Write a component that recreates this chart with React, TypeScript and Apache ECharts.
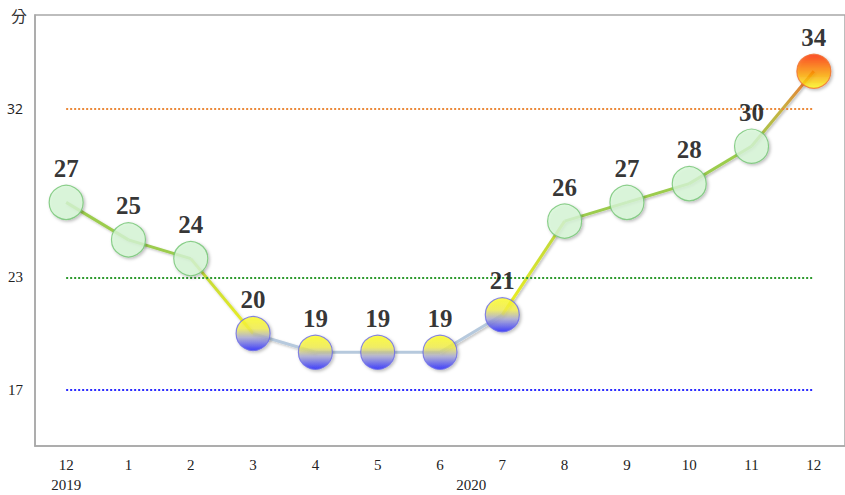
import React, { useEffect, useRef } from "react";
import * as echarts from "echarts";

const months = ["12", "1", "2", "3", "4", "5", "6", "7", "8", "9", "10", "11", "12"];
const scores = [27, 25, 24, 20, 19, 19, 19, 21, 26, 27, 28, 30, 34];
// signal per month: g = green, b = yellow-blue, r = red
const signals = ["g", "g", "g", "b", "b", "b", "b", "b", "g", "g", "g", "g", "r"];
const thresholds = [32, 23, 17];
const thresholdColors = ["#ec8a3a", "#2e9a2e", "#2a2aff"];
const yLabels = [17, 23, 32];
const years = [
  { text: "2019", at: 0 },
  { text: "2020", at: 6.5 },
];

function markerStyle(sig: string) {
  if (sig === "g") {
    return { color: "#d8f7d8", borderColor: "#72c472", borderWidth: 1.2 };
  }
  if (sig === "b") {
    return {
      color: new echarts.graphic.LinearGradient(0, 0, 0, 1, [
        { offset: 0, color: "#ffff20" },
        { offset: 0.35, color: "#f4f04c" },
        { offset: 0.62, color: "#a8a8d2" },
        { offset: 1, color: "#1e1eff" },
      ]),
      borderColor: "#6a6ae6",
      borderWidth: 1.2,
    };
  }
  return {
    color: new echarts.graphic.LinearGradient(0, 0, 0, 1, [
      { offset: 0, color: "#ff2a00" },
      { offset: 0.55, color: "#ff9a00" },
      { offset: 1, color: "#ffff20" },
    ]),
    borderColor: "#f07030",
    borderWidth: 1.2,
  };
}

function segmentColor(a: string, b: string, upper: string) {
  if (a === "g" && b === "g") return "#9ccc4e";
  if (a === "b" && b === "b") return "#b6c9dd";
  if (upper === "r") {
    return new echarts.graphic.LinearGradient(0, 0, 0, 1, [
      { offset: 0, color: "#f06a30" },
      { offset: 0.5, color: "#c8b040" },
      { offset: 1, color: "#9ccc4e" },
    ]);
  }
  return new echarts.graphic.LinearGradient(0, 0, 0, 1, [
    { offset: 0, color: "#b8d440" },
    { offset: 1, color: "#f0f020" },
  ]);
}

export default function App() {
  const ref = useRef<HTMLDivElement>(null);
  useEffect(() => {
    document.body.style.margin = "0";
    const chart = echarts.init(ref.current!, null, { renderer: "svg" });

    const segSeries: any[] = [];
    for (let i = 0; i < scores.length - 1; i++) {
      const data: any[] = scores.map(() => null);
      data[i] = scores[i];
      data[i + 1] = scores[i + 1];
      const upper = scores[i] > scores[i + 1] ? signals[i] : signals[i + 1];
      const flat = scores[i] === scores[i + 1];
      segSeries.push({
        type: "line",
        data,
        symbol: "none",
        silent: true,
        z: 2,
        lineStyle: {
          width: 3,
          color: segmentColor(signals[i], signals[i + 1], upper),
          ...(flat
            ? {}
            : {
                shadowColor: "rgba(0,0,0,0.25)",
                shadowBlur: 2,
                shadowOffsetX: 1.5,
                shadowOffsetY: 1.5,
              }),
        },
      });
    }

    const markLineData = thresholds.map((v, i) => [
      { coord: [0, v], lineStyle: { color: thresholdColors[i] } },
      { coord: [months.length - 1, v] },
    ]);

    chart.setOption({
      animation: false,
      grid: {
        left: 35,
        right: -2,
        top: 15,
        bottom: 49,
        show: true,
        borderColor: "#a8a8a8",
        borderWidth: 1.5,
      },
      xAxis: {
        type: "category",
        data: months,
        boundaryGap: true,
        axisLine: { lineStyle: { color: "#a8a8a8", width: 1.5 } },
        axisTick: { show: false },
        axisLabel: {
          color: "#222",
          fontFamily: "Liberation Serif",
          fontSize: 15,
          margin: 11,
        },
      },
      yAxis: {
        type: "value",
        min: 14,
        max: 37,
        interval: 1,
        splitLine: { show: false },
        axisLine: { show: true, lineStyle: { color: "#a8a8a8", width: 1.5 } },
        axisTick: { show: false },
        axisLabel: {
          margin: 12,
          color: "#222",
          fontFamily: "Liberation Serif",
          fontSize: 15,
          formatter: (v: number) => {
            if (!yLabels.includes(v)) return "";
            return v === 32 ? "{s|" + v + "}" : String(v);
          },
          rich: {
            s: { fontFamily: "Open Sans", fontSize: 14, color: "#222" },
          },
        },
      },
      series: [
        {
          type: "line",
          data: [],
          markLine: {
            silent: true,
            symbol: "none",
            label: { show: false },
            lineStyle: { type: "dotted", width: 2 },
            data: markLineData,
          },
          z: 1,
        },
        ...segSeries,
        {
          type: "scatter",
          z: 5,
          symbolSize: 34,
          data: scores.map((v, i) => ({
            value: v,
            itemStyle: {
              ...markerStyle(signals[i]),
              shadowColor: "rgba(0,0,0,0.3)",
              shadowBlur: 3,
              shadowOffsetX: 1.5,
              shadowOffsetY: 1.5,
            },
          })),
          label: {
            show: true,
            position: "top",
            distance: 4,
            color: "#000",
            fontFamily: "Liberation Serif",
            fontWeight: "bold",
            fontSize: 25,
          },
        },
      ],
    });

    const graphics: any[] = [
      {
        type: "text",
        left: 11,
        top: 7,
        style: { text: "分", fontFamily: "Noto Sans CJK TC", fontSize: 16, fill: "#333" },
      },
    ];
    years.forEach((y) => {
      const lo = Math.floor(y.at);
      const hi = Math.ceil(y.at);
      const pLo = chart.convertToPixel({ xAxisIndex: 0 }, lo) as number;
      const pHi = chart.convertToPixel({ xAxisIndex: 0 }, hi) as number;
      const x = pLo + (pHi - pLo) * (y.at - lo);
      graphics.push({
        type: "text",
        x,
        y: 485,
        style: {
          text: y.text,
          fontFamily: "Liberation Serif",
          fontSize: 15,
          fill: "#222",
          align: "center",
          verticalAlign: "middle",
        },
      });
    });
    chart.setOption({ graphic: graphics });

    return () => chart.dispose();
  }, []);
  return <div ref={ref} style={{ width: 845, height: 495 }} />;
}
